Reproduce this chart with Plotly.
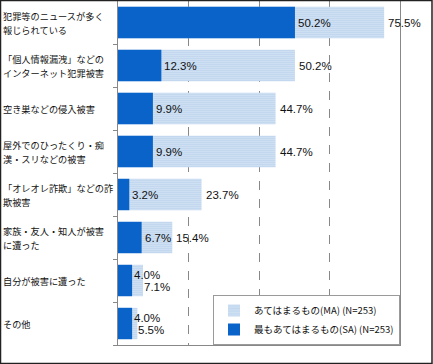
import plotly.graph_objects as go

categories = [
    "犯罪等のニュースが多く<br>報じられている",
    "「個人情報漏洩」などの<br>インターネット犯罪被害",
    "空き巣などの侵入被害",
    "屋外でのひったくり・痴<br>漢・スリなどの被害",
    "「オレオレ詐欺」などの詐<br>欺被害",
    "家族・友人・知人が被害<br>に遭った",
    "自分が被害に遭った",
    "その他",
]
ma_values = [75.5, 50.2, 44.7, 44.7, 23.7, 15.4, 7.1, 5.5]
sa_values = [50.2, 12.3, 9.9, 9.9, 3.2, 6.7, 4.0, 4.0]
ma_name = "あてはまるもの(MA) (N=253)"
sa_name = "最もあてはまるもの(SA) (N=253)"

W, H = 433, 364
L, R, T, B = 118, 33, 1, 19
pw, ph = W - L - R, H - T - B

ids = list(range(len(categories)))

fig = go.Figure()
fig.add_trace(go.Bar(
    y=ids, x=ma_values, orientation="h", name=ma_name,
    marker=dict(color="#ffffff",
                pattern=dict(shape=".", fgcolor="#1f6fc4", bgcolor="#ffffff",
                             size=2, solidity=0.55, fillmode="overlay"),
                line=dict(width=0)),
    hoverinfo="skip",
))
fig.add_trace(go.Bar(
    y=ids, x=sa_values, orientation="h", name=sa_name,
    marker=dict(color="#0a63c9", line=dict(width=0)),
    hoverinfo="skip",
))

annotations = []
lab_font = dict(family="Noto Sans CJK JP", size=9.2, color="#111111")
num_font = dict(family="Liberation Sans, Arial", size=11.5, color="#111111")
for i, c in enumerate(categories):
    lines = c.split("<br>")
    n = len(lines)
    for k, ln in enumerate(lines):
        annotations.append(dict(
            x=(1.5 - L) / pw, xref="paper", y=i, yref="y", text=ln,
            showarrow=False, xanchor="left", yanchor="middle",
            yshift=((n - 1) / 2 - k) * 14, font=lab_font, borderpad=0,
        ))
    close = ma_values[i] - sa_values[i] < 5
    annotations.append(dict(
        x=sa_values[i], xref="x", y=i, yref="y", text=f"{sa_values[i]:.1f}%",
        showarrow=False, xanchor="left", xshift=1 if not close else 0,
        yshift=6 if close else 0, font=num_font,
    ))
    annotations.append(dict(
        x=ma_values[i], xref="x", y=i, yref="y", text=f"{ma_values[i]:.1f}%",
        showarrow=False, xanchor="left", xshift=2 if not close else -1,
        yshift=-6 if close else 0, font=num_font,
    ))

fig.update_layout(
    width=W, height=H,
    margin=dict(l=L, r=R, t=T, b=B, pad=0, autoexpand=False),
    paper_bgcolor="white", plot_bgcolor="white",
    barmode="overlay", bargap=0.27,
    showlegend=True,
    legend=dict(x=1, y=0, xanchor="right", yanchor="bottom",
                bordercolor="#9a9a9a", borderwidth=1, bgcolor="white",
                font=dict(family="Noto Sans CJK JP", size=9.5, color="#111111"),
                traceorder="normal", itemwidth=30, tracegroupgap=0),
    xaxis=dict(range=[0, 80], showticklabels=False, ticks="", automargin=False,
               showgrid=True, gridcolor="#888888", griddash="dash", gridwidth=1,
               dtick=20, zeroline=False,
               showline=True, linecolor="#888888", linewidth=1, mirror=True),
    yaxis=dict(range=[len(categories) - 0.5, -0.5], showticklabels=False,
               automargin=False,
               ticks="outside", ticklen=4, tickcolor="#888888",
               tickmode="array", tickvals=[i + 0.5 for i in ids],
               showgrid=False, zeroline=False,
               showline=True, linecolor="#888888", linewidth=1, mirror=True),
    annotations=annotations,
    shapes=[dict(type="rect", xref="paper", yref="paper",
                 x0=(0.5 - L) / pw, x1=(W - 1 - L) / pw,
                 y0=-(B - 0.5) / ph, y1=(ph + T - 0.5) / ph,
                 line=dict(color="#222222", width=1.5))],
)

fig.write_html("out.html", config={"displayModeBar": False},
               post_script="document.body.style.margin='0';document.body.style.overflow='hidden';")
